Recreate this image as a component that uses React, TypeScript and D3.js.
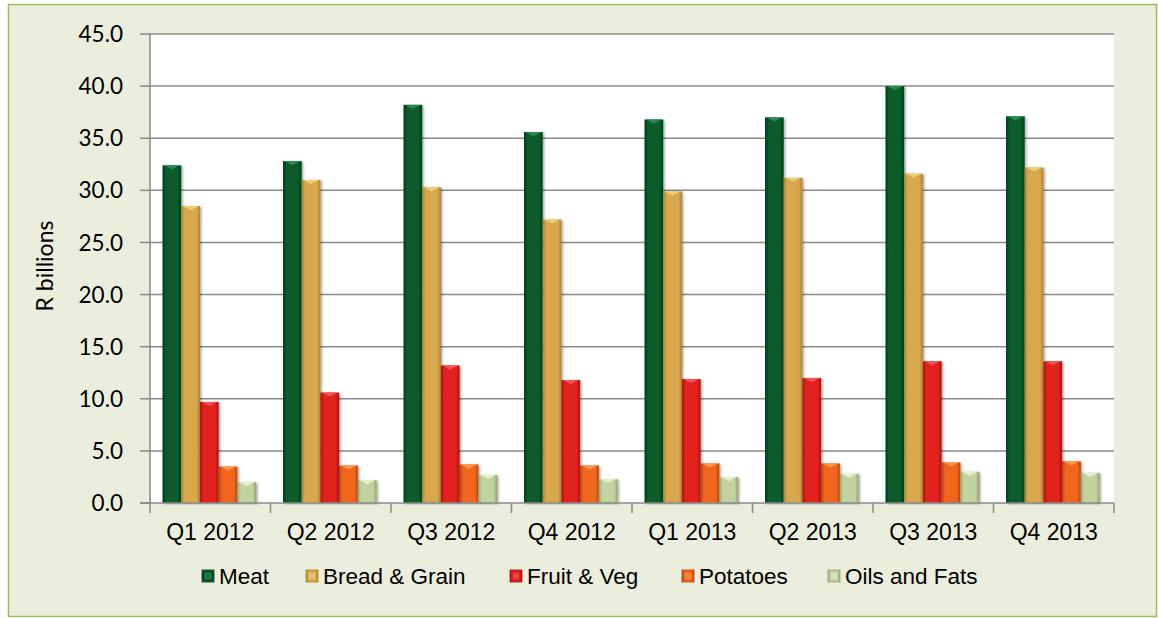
import React from 'react';
import * as d3 from 'd3';

const quarters = ['Q1 2012', 'Q2 2012', 'Q3 2012', 'Q4 2012', 'Q1 2013', 'Q2 2013', 'Q3 2013', 'Q4 2013'];
const seriesNames = ['Meat', 'Bread & Grain', 'Fruit & Veg', 'Potatoes', 'Oils and Fats'];
const meat = [32.4, 32.8, 38.2, 35.6, 36.8, 37.0, 40.0, 37.1];
const bread = [28.5, 31.0, 30.3, 27.2, 29.9, 31.2, 31.6, 32.2];
const fruit = [9.7, 10.6, 13.2, 11.8, 11.9, 12.0, 13.6, 13.6];
const potatoes = [3.5, 3.6, 3.7, 3.6, 3.8, 3.8, 3.9, 4.0];
const oils = [2.0, 2.2, 2.7, 2.3, 2.5, 2.8, 3.0, 2.9];
const yTicks = [0, 5, 10, 15, 20, 25, 30, 35, 40, 45];

const seriesValues = [meat, bread, fruit, potatoes, oils];
const colors = [
  {base: '#075a29', light: '#2f8f55', dark: '#03401b'},
  {base: '#d9a84e', light: '#f0d27e', dark: '#a9802f'},
  {base: '#e2201e', light: '#f5585a', dark: '#a9120f'},
  {base: '#f0661a', light: '#ff9a4e', dark: '#b44409'},
  {base: '#c3d3a0', light: '#e9f2d2', dark: '#93a472'},
];

const W = 1159;
const H = 618;
const plot = {left: 150, right: 1114, top: 34, bottom: 503};
const arial = "'Liberation Sans', Arial, sans-serif";

export default function App() {
  const x = d3.scaleBand<string>().domain(quarters).range([plot.left, plot.right]);
  const inner = d3
    .scaleBand<number>()
    .domain(d3.range(seriesNames.length))
    .range([12.5, x.bandwidth() - 14.5]);
  const y = d3.scaleLinear().domain([0, 45]).range([plot.bottom, plot.top]);
  const bw = inner.bandwidth();

  const legendX = [202, 306, 510, 682, 828];

  return (
    <svg width={W} height={H} style={{position: 'absolute', left: 0, top: 0}}>
      <defs>
        {colors.map((c, i) => (
          <linearGradient key={i} id={`bar-${i}`} x1="0" x2="1" y1="0" y2="0">
            <stop offset="0%" stopColor={c.dark} />
            <stop offset="18%" stopColor={c.base} />
            <stop offset="82%" stopColor={c.base} />
            <stop offset="100%" stopColor={c.dark} />
          </linearGradient>
        ))}
        <filter id="shadow" x="-30%" y="-10%" width="160%" height="120%">
          <feDropShadow dx="1.5" dy="1" stdDeviation="1.3" floodColor="#000" floodOpacity="0.35" />
        </filter>
      </defs>
      <rect x={8.5} y={4.5} width={1148} height={612} fill="#ebeedd" stroke="#9bbb59" strokeWidth={1.5} />
      <rect x={plot.left} y={plot.top} width={plot.right - plot.left} height={plot.bottom - plot.top} fill="#ffffff" />

      {/* grid lines */}
      {yTicks.map((t) => (
        <g key={t}>
          {t > 0 && (
            <line x1={plot.left} x2={plot.right} y1={y(t)} y2={y(t)} stroke="#8a8a8a" strokeWidth={1.5} />
          )}
          <line x1={plot.left - 10} x2={plot.left} y1={y(t)} y2={y(t)} stroke="#8a8a8a" strokeWidth={1.5} />
          <text
            x={123}
            y={y(t)}
            dy="0.36em"
            textAnchor="end"
            fontFamily="Lato, 'Open Sans', sans-serif"
            fontSize={22.5}
            fill="#000"
          >
            {t.toFixed(1)}
          </text>
        </g>
      ))}

      {/* bars */}
      {quarters.map((q, qi) => (
        <g key={q} transform={`translate(${x(q)},0)`}>
          {seriesValues.map((vals, si) => {
            const x0 = inner(si)!;
            const yt = y(vals[qi]);
            const h = plot.bottom - yt;
            const tri = Math.min(bw * 0.45, h);
            return (
              <g key={si} filter="url(#shadow)">
                <rect x={x0} y={yt} width={bw} height={h} fill={`url(#bar-${si})`} />
                <path
                  d={`M${x0 + 1.5},${yt} L${x0 + bw - 1.5},${yt} L${x0 + bw / 2},${yt + tri * 0.5} Z`}
                  fill={colors[si].light}
                  opacity={0.9}
                />
              </g>
            );
          })}
        </g>
      ))}

      {/* axes */}
      <line x1={plot.left} x2={plot.left} y1={plot.top} y2={plot.bottom + 10} stroke="#8a8a8a" strokeWidth={1.5} />
      <line x1={plot.left - 10} x2={plot.right} y1={plot.bottom} y2={plot.bottom} stroke="#8a8a8a" strokeWidth={1.5} />
      {quarters.map((q) => (
        <line
          key={q}
          x1={x(q)! + x.bandwidth()}
          x2={x(q)! + x.bandwidth()}
          y1={plot.bottom}
          y2={plot.bottom + 10}
          stroke="#8a8a8a"
          strokeWidth={1.5}
        />
      ))}
      {quarters.map((q) => (
        <text
          key={q}
          x={x(q)! + x.bandwidth() / 2}
          y={540}
          textAnchor="middle"
          fontFamily={arial}
          fontSize={23}
          fill="#000"
        >
          {q}
        </text>
      ))}
      <text
        transform={`translate(53,266) rotate(-90)`}
        textAnchor="middle"
        fontFamily="Lato, 'Open Sans', sans-serif"
        fontSize={23}
        fill="#000"
      >
        R billions
      </text>

      {/* legend */}
      {seriesNames.map((name, i) => (
        <g key={name} transform={`translate(${legendX[i]},570)`}>
          <rect x={0} y={0} width={12} height={12} fill={`url(#bar-${i})`} stroke={colors[i].dark} strokeWidth={0.8} />
          <rect x={3} y={3} width={6} height={6} fill={colors[i].light} opacity={0.6} />
          <text x={17} y={13.5} fontFamily={arial} fontSize={22.5} fill="#000">
            {name}
          </text>
        </g>
      ))}
    </svg>
  );
}
